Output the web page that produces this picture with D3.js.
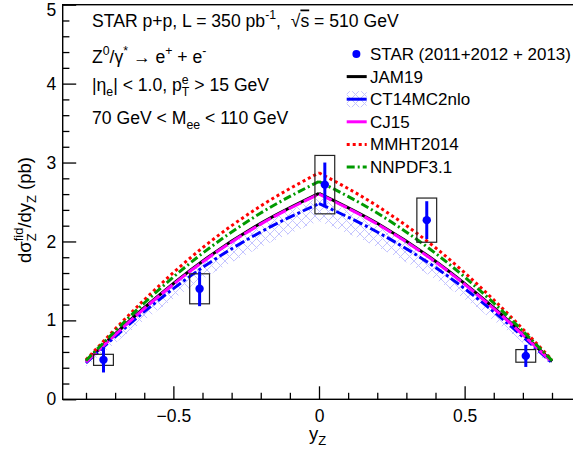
<!DOCTYPE html>
<html><head><meta charset="utf-8">
<script src="https://cdn.jsdelivr.net/npm/d3@7"></script>
<style>
html,body{margin:0;padding:0;background:#fff;}
text{font-family:"Liberation Sans",Arial,Helvetica,sans-serif;fill:#000;white-space:pre;}
</style></head>
<body><svg id="c" width="573" height="455"></svg>
<script>
// ---------------- data ----------------
const pdfX   = [-0.8, -0.6, -0.4, -0.2, 0, 0.2, 0.4, 0.6, 0.8];
const jam19  = [0.48, 1.16, 1.75, 2.23, 2.61, 2.23, 1.75, 1.16, 0.48];
const ct14   = [0.46, 1.11, 1.67, 2.12, 2.48, 2.12, 1.67, 1.11, 0.46];
const ct14Lo = [0.42, 1.00, 1.52, 1.93, 2.26, 1.93, 1.52, 1.00, 0.42];
const ct14Hi = [0.48, 1.16, 1.74, 2.20, 2.56, 2.20, 1.74, 1.16, 0.48];
const cj15   = [0.47, 1.15, 1.74, 2.22, 2.60, 2.22, 1.74, 1.15, 0.47];
const mmht   = [0.50, 1.26, 1.92, 2.45, 2.87, 2.45, 1.92, 1.26, 0.50];
const nnpdf  = [0.49, 1.22, 1.85, 2.36, 2.76, 2.36, 1.85, 1.22, 0.49];

const starX   = [-0.74, -0.41, 0.02, 0.37, 0.71];
const starY   = [0.50, 1.40, 2.72, 2.27, 0.55];
const statErr = [0.16, 0.22, 0.28, 0.24, 0.14];
const sysErr  = [0.07, 0.19, 0.37, 0.28, 0.08];
const sysHalfWidth = 0.034;

const xMajorTicks = [-0.5, 0, 0.5];
const xMinorTicks = [-0.8,-0.7,-0.6,-0.4,-0.3,-0.2,-0.1,0.1,0.2,0.3,0.4,0.6,0.7,0.8];
const yMajorTicks = [0, 1, 2, 3, 4, 5];
const yMinorTicks = [0.2,0.4,0.6,0.8,1.2,1.4,1.6,1.8,2.2,2.4,2.6,2.8,3.2,3.4,3.6,3.8,4.2,4.4,4.6,4.8];

// ---------------- layout ----------------
const svg = d3.select('#c');
svg.append('rect').attr('width',573).attr('height',455).attr('fill','#fff');
const X0 = 62.7, X1 = 575.3, Y0 = 399.3, Y1 = 4.7;
const x = d3.scaleLinear().domain([-0.88, 0.88]).range([X0, X1]);
const y = d3.scaleLinear().domain([0, 5]).range([Y0, Y1]);

const defs = svg.append('defs');
const pat = defs.append('pattern').attr('id','hatch').attr('patternUnits','userSpaceOnUse')
  .attr('width',9).attr('height',9);
pat.append('path').attr('d','M0,0L9,9M9,0L0,9').attr('stroke','#c4c4ff').attr('stroke-width',1);

function rich(parent, px, py, parts, fs, anchor, transform){
  const t = parent.append('text').attr('font-size',fs);
  if (transform) t.attr('transform',transform); else t.attr('x',px).attr('y',py);
  if (anchor) t.attr('text-anchor',anchor);
  let cur = 0, prev = null, pendingDx = 0;
  parts.forEach(p => {
    const s = p[0], m = p[1] || '';
    const target = m === 'sup' ? -0.42*fs : (m === 'sub' || m === 'stack') ? 0.28*fs : 0;
    const ts = t.append('tspan').attr('dy', target - cur).text(s);
    if (m) ts.attr('font-size', 0.7*fs);
    if (p[2]) ts.style('text-decoration','overline');
    if (m === 'stack' && prev){
      const pl = prev.node().getComputedTextLength();
      ts.attr('dx', -pl);
      const sl = ts.node().getComputedTextLength();
      pendingDx = Math.max(0, pl - sl);
    } else if (pendingDx){ ts.attr('dx', pendingDx); pendingDx = 0; }
    cur = target; prev = ts;
  });
  return t;
}

// ---------------- model curves ----------------
const plot = svg.append('g');
const half = (arr, left) => pdfX.map((v,i)=>[v, arr[i]]).filter(d => left ? d[0] <= 0 : d[0] >= 0);
const area = d3.area().curve(d3.curveMonotoneX).x(d=>x(d[0])).y0(d=>y(d[1])).y1(d=>y(d[2]));
const bandPts = pdfX.map((v,i)=>[v, ct14Lo[i], ct14Hi[i]]);
[true,false].forEach(l=>{
  plot.append('path').attr('d', area(bandPts.filter(d => l ? d[0] <= 0 : d[0] >= 0))).attr('fill','url(#hatch)');
});

const line = d3.line().curve(d3.curveMonotoneX).x(d=>x(d[0])).y(d=>y(d[1]));
const models = [
  {name:'JAM19', data:jam19, color:'#000000', dash:null, ldash:null},
  {name:'CT14MC2nlo', data:ct14, color:'#0000ff', dash:'10,3,3,3', ldash:null, band:true},
  {name:'CJ15', data:cj15, color:'#ff00ff', dash:'14,3', ldash:null},
  {name:'MMHT2014', data:mmht, color:'#ff0000', dash:'3,3', ldash:'3,3'},
  {name:'NNPDF3.1', data:nnpdf, color:'#009a00', dash:'8,3,2,3', ldash:'8,3,2,3'}
];
models.forEach(m=>{
  const d = line(half(m.data,true)) + line(half(m.data,false));
  plot.append('path').attr('d', d).attr('fill','none')
    .attr('stroke', m.color).attr('stroke-width',3).attr('stroke-dasharray', m.dash);
});

// ---------------- STAR data ----------------
const data = starX.map((v,i)=>({x:v, y:starY[i], st:statErr[i], sy:sysErr[i]}));
plot.selectAll('rect.sys').data(data).join('rect').attr('class','sys')
  .attr('x', d=>x(d.x - sysHalfWidth)).attr('width', d=>x(d.x + sysHalfWidth) - x(d.x - sysHalfWidth))
  .attr('y', d=>y(d.y + d.sy)).attr('height', d=>y(d.y - d.sy) - y(d.y + d.sy))
  .attr('fill','none').attr('stroke','#222').attr('stroke-width',1.2);
plot.selectAll('line.err').data(data).join('line').attr('class','err')
  .attr('x1', d=>x(d.x)).attr('x2', d=>x(d.x)).attr('y1', d=>y(d.y - d.st)).attr('y2', d=>y(d.y + d.st))
  .attr('stroke','#0000ff').attr('stroke-width',3);
plot.selectAll('circle.pt').data(data).join('circle').attr('class','pt')
  .attr('cx', d=>x(d.x)).attr('cy', d=>y(d.y)).attr('r',4.2).attr('fill','#0000ff');

// ---------------- axes & frame ----------------
svg.append('rect').attr('x',X0).attr('y',Y1).attr('width',X1-X0).attr('height',Y0-Y1)
  .attr('fill','none').attr('stroke','#000').attr('stroke-width',1.4);

const TFS = 17.5;
const fmtX = d => d === 0 ? '0' : d3.format('.1f')(d);
const xa = svg.append('g').attr('transform',`translate(0,${Y0})`)
  .call(d3.axisBottom(x).tickValues(xMajorTicks).tickSizeInner(-13).tickSizeOuter(0).tickPadding(10).tickFormat(fmtX));
const xm = svg.append('g').attr('transform',`translate(0,${Y0})`)
  .call(d3.axisBottom(x).tickValues(xMinorTicks).tickSizeInner(-6.5).tickSizeOuter(0).tickFormat(''));
const ya = svg.append('g').attr('transform',`translate(${X0},0)`)
  .call(d3.axisLeft(y).tickValues(yMajorTicks).tickSizeInner(-13.5).tickSizeOuter(0).tickPadding(6.5).tickFormat(d3.format('d')));
const ym = svg.append('g').attr('transform',`translate(${X0},0)`)
  .call(d3.axisLeft(y).tickValues(yMinorTicks).tickSizeInner(-6.7).tickSizeOuter(0).tickFormat(''));
[xa,xm,ya,ym].forEach(g=>{
  g.select('.domain').remove();
  g.selectAll('line').attr('stroke','#000').attr('stroke-width',1.3);
  g.selectAll('text').attr('font-size',TFS).attr('font-family','"Liberation Sans",Arial,sans-serif').attr('fill','#000');
});
ya.selectAll('.tick').filter(d => d === 5).select('text').attr('dy','0.62em');

// axis titles
rich(svg, 309, 440, [['y'],['Z','sub']], 18.5);
rich(svg, 0, 0, [['d\u03c3'],['fid','sup'],['Z','stack'],['/dy'],['Z','sub'],[' (pb)']], 18.5, 'end', 'translate(31,157) rotate(-90)');

// ---------------- annotation text ----------------
const FS = 17.6;
rich(svg, 92, 26.5, [['STAR p+p, L = 350 pb'],['-1','sup'],[',  \u221a'],['s','',true],[' = 510 GeV']], FS);
rich(svg, 92, 62.5, [['Z'],['0','sup'],['/\u03b3'],['*','sup'],[' \u2192 e'],['+','sup'],[' + e'],['-','sup']], FS);
rich(svg, 92, 91, [['|\u03b7'],['e','sub'],['| < 1.0, p'],['e','sup'],['T','stack'],[' > 15 GeV']], FS);
rich(svg, 92, 124, [['70 GeV < M'],['ee','sub'],[' < 110 GeV']], FS);

// ---------------- legend ----------------
const LFS = 17;
const leg = svg.append('g');
const LX0 = 346.7, LX1 = 366.7, TX = 370, LY0 = 54, LDY = 22.6;
leg.append('circle').attr('cx', (LX0+LX1)/2 - 0.3).attr('cy', LY0).attr('r',4).attr('fill','#0000ff');
const starLab = leg.append('text').attr('x',TX).attr('y',LY0+6).attr('font-size',LFS).text('STAR (2011+2012 + 2013)');
const sl = starLab.node().getComputedTextLength();
if (TX + sl > 571) starLab.attr('font-size', LFS * (571 - TX) / sl);
models.forEach((m,i)=>{
  const ly = LY0 + LDY*(i+1);
  if (m.band) leg.append('rect').attr('x',LX0).attr('y',ly-8).attr('width',LX1-LX0).attr('height',16).attr('fill','url(#hatch)');
  leg.append('line').attr('x1',LX0).attr('x2',LX1).attr('y1',ly).attr('y2',ly)
    .attr('stroke',m.color).attr('stroke-width',3).attr('stroke-dasharray',m.ldash);
  leg.append('text').attr('x',TX).attr('y',ly+6).attr('font-size',LFS).text(m.name);
});
</script></body></html>
